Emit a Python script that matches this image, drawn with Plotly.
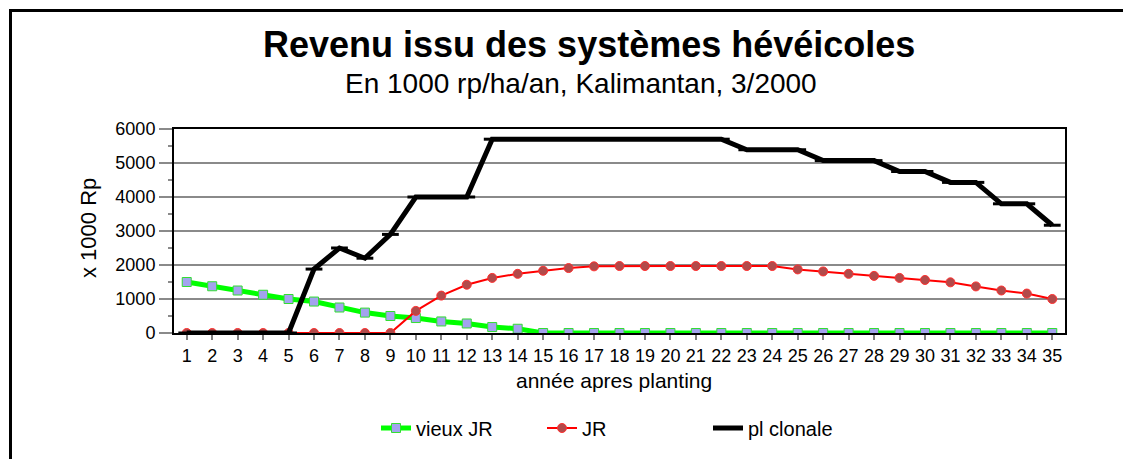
import plotly.graph_objects as go

# Revenue from rubber-based systems, Kalimantan (1000 rp/ha/yr)
years = list(range(1, 36))
year_labels = [str(y) for y in years]

vieux_jr = [1500, 1375, 1250, 1125, 1000, 925, 750, 600, 500, 440, 340, 280,
            175, 125, 0, 0, 0, 0, 0, 0, 0, 0, 0, 0, 0, 0, 0, 0, 0, 0, 0, 0,
            0, 0, 0]
jr = [0, 0, 0, 0, 0, 0, 0, 0, 0, 650, 1100, 1420, 1620, 1740, 1830, 1910,
      1960, 1970, 1970, 1970, 1970, 1970, 1970, 1970, 1870, 1810, 1740, 1680,
      1620, 1560, 1490, 1370, 1250, 1160, 1000]
pl_clonale = [0, 0, 0, 0, 0, 1880, 2500, 2200, 2900, 4000, 4000, 4000, 5700,
              5700, 5700, 5700, 5700, 5700, 5700, 5700, 5700, 5700, 5390, 5390,
              5390, 5070, 5070, 5070, 4750, 4750, 4430, 4430, 3800, 3800, 3170]

y_ticks = [0, 1000, 2000, 3000, 4000, 5000, 6000]

FONT = "Liberation Sans, Arial, sans-serif"

# plot-area geometry in pixels
W, H = 1123, 459
L, R, T, B = 174, 1065, 129, 333
PW, PH = R - L, B - T


def px_x(px):
    return (px - L) / PW


def px_y(py):
    return (B - py) / PH


fig = go.Figure()

fig.add_trace(go.Scatter(
    x=years, y=vieux_jr, name="vieux JR", mode="lines+markers",
    line=dict(color="#00ff00", width=5),
    marker=dict(symbol="square", size=9, color="#a3a3ee",
                line=dict(color="#33dd33", width=1)),
))
fig.add_trace(go.Scatter(
    x=years, y=jr, name="JR", mode="lines+markers",
    line=dict(color="#ff0000", width=2),
    marker=dict(symbol="circle", size=9, color="#b24a4a",
                line=dict(color="#ff3030", width=1)),
))
fig.add_trace(go.Scatter(
    x=years, y=pl_clonale, name="pl clonale", mode="lines+markers",
    line=dict(color="#000000", width=5),
    marker=dict(symbol="line-ew", size=12,
                line=dict(color="#000000", width=3)),
))

fig.update_layout(
    width=W, height=H,
    margin=dict(l=L, r=W - R, t=T, b=H - B),
    paper_bgcolor="white", plot_bgcolor="white",
    font=dict(family=FONT, size=18, color="black"),
    showlegend=True,
    legend=dict(
        orientation="h", xanchor="left", yanchor="middle",
        x=px_x(376), y=px_y(428),
        font=dict(size=20), entrywidth=121, entrywidthmode="pixels",
        bgcolor="rgba(0,0,0,0)",
    ),
    xaxis=dict(
        range=[0.5, 35.5], tickmode="array", tickvals=years,
        ticktext=year_labels, showgrid=False, zeroline=False,
        showline=True, linecolor="black", linewidth=2, mirror=True,
        ticks="outside", ticklen=5, tickcolor="#808080", tickwidth=2,
        tickfont=dict(size=18),
    ),
    yaxis=dict(
        range=[0, 6000], tickmode="array", tickvals=y_ticks,
        showgrid=True, gridcolor="#8a8a8a", gridwidth=2, zeroline=False,
        showline=True, linecolor="black", linewidth=2, mirror=True,
        ticks="outside", ticklen=13, tickcolor="#8a8a8a", tickwidth=2,
        tickfont=dict(size=18),
        minor=dict(dtick=500, ticks="outside", ticklen=4,
                   tickcolor="#8a8a8a", tickwidth=2, showgrid=False),
    ),
    annotations=[
        dict(text="<b>Revenu issu des systèmes hévéicoles</b>",
             xref="paper", yref="paper", x=px_x(589), y=px_y(45),
             xanchor="center", yanchor="middle", showarrow=False,
             font=dict(size=36)),
        dict(text="En 1000 rp/ha/an, Kalimantan, 3/2000",
             xref="paper", yref="paper", x=px_x(581), y=px_y(84),
             xanchor="center", yanchor="middle", showarrow=False,
             font=dict(size=28)),
        dict(text="année apres planting",
             xref="paper", yref="paper", x=px_x(614), y=px_y(380),
             xanchor="center", yanchor="middle", showarrow=False,
             font=dict(size=21)),
        dict(text="x 1000 Rp", textangle=-90,
             xref="paper", yref="paper", x=px_x(88), y=px_y(228),
             xanchor="center", yanchor="middle", showarrow=False,
             font=dict(size=22)),
    ],
    shapes=[
        # outer chart frame
        dict(type="rect", xref="paper", yref="paper",
             x0=px_x(10.5), y0=px_y(560), x1=px_x(1200), y1=px_y(10.5),
             line=dict(color="black", width=3), fillcolor="rgba(0,0,0,0)",
             layer="below"),
    ],
)

fig.write_html("out.html")
